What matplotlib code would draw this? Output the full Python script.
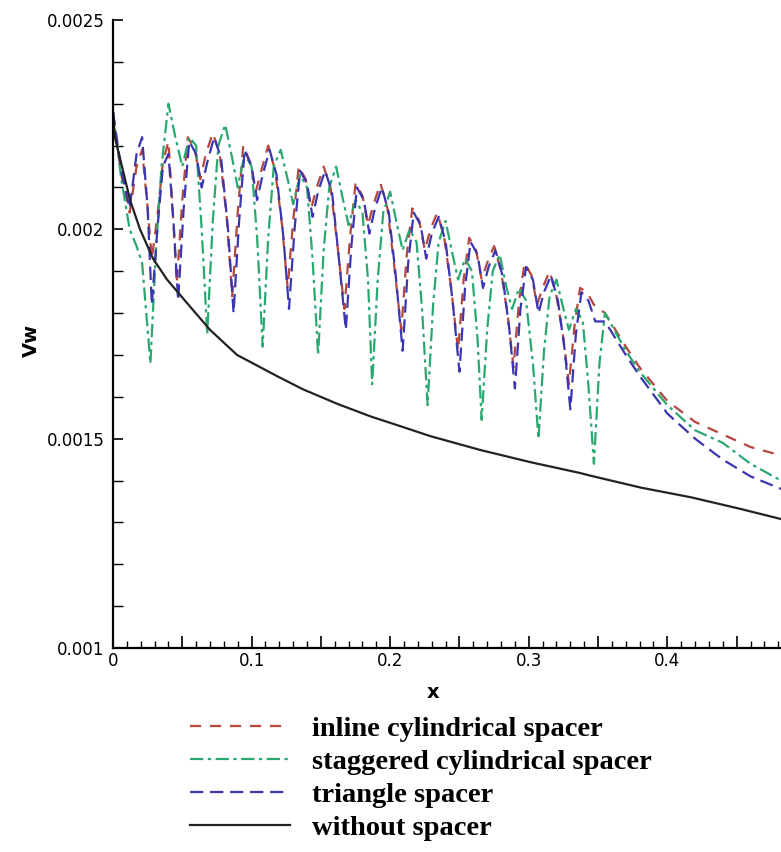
import matplotlib
matplotlib.use("Agg")
import matplotlib.pyplot as plt
from matplotlib.ticker import MultipleLocator, FixedLocator, FixedFormatter

# ---- data ----
x_plain = [0.000, 0.0014, 0.0123, 0.0195, 0.0289, 0.039, 0.0534, 0.070, 0.0895,
           0.118, 0.137, 0.162, 0.186, 0.209, 0.229, 0.265, 0.301, 0.337, 0.344,
           0.381, 0.417, 0.453, 0.482]
vw_plain = [0.00228, 0.00222, 0.00207, 0.00200, 0.00193, 0.00188, 0.001824,
            0.00176, 0.00170, 0.00165, 0.001618, 0.001583, 0.001553, 0.001528,
            0.001506, 0.001473, 0.001444, 0.001418, 0.001412, 0.001383, 0.00136,
            0.001332, 0.001308]

x_inline = [0.000, 0.006, 0.012, 0.017, 0.021, 0.025, 0.028, 0.032, 0.036, 0.040,
            0.043, 0.046, 0.050, 0.054, 0.059, 0.063, 0.067, 0.072, 0.077, 0.082,
            0.086, 0.090, 0.094, 0.099, 0.103, 0.107, 0.112, 0.117, 0.122, 0.126,
            0.130, 0.134, 0.139, 0.143, 0.147, 0.152, 0.157, 0.162, 0.167, 0.171,
            0.175, 0.180, 0.184, 0.188, 0.193, 0.198, 0.203, 0.208, 0.212, 0.216,
            0.221, 0.225, 0.229, 0.234, 0.239, 0.244, 0.249, 0.253, 0.257, 0.262,
            0.266, 0.270, 0.275, 0.280, 0.285, 0.289, 0.293, 0.297, 0.302, 0.306,
            0.310, 0.315, 0.320, 0.325, 0.329, 0.333, 0.337, 0.342, 0.347, 0.355,
            0.370, 0.380, 0.400, 0.420, 0.440, 0.460, 0.482]
vw_inline = [0.00228, 0.00213, 0.00204, 0.00215, 0.00219, 0.00205, 0.00193, 0.00203,
             0.00216, 0.00221, 0.00205, 0.00187, 0.00207, 0.00222, 0.00219, 0.00212,
             0.00218, 0.00223, 0.00218, 0.00203, 0.00184, 0.00204, 0.00220, 0.00216,
             0.00209, 0.00214, 0.00220, 0.00214, 0.00201, 0.00186, 0.00202, 0.00215,
             0.00212, 0.00205, 0.00210, 0.00215, 0.00210, 0.00196, 0.00181, 0.00198,
             0.00211, 0.00208, 0.00201, 0.00206, 0.00211, 0.00205, 0.00191, 0.00176,
             0.00194, 0.00205, 0.00202, 0.00195, 0.00200, 0.00204, 0.00198, 0.00186,
             0.00171, 0.00188, 0.00198, 0.00195, 0.00188, 0.00192, 0.00196, 0.00190,
             0.00179, 0.00167, 0.00183, 0.00192, 0.00189, 0.00182, 0.00186, 0.00190,
             0.00184, 0.00174, 0.00163, 0.00177, 0.00186, 0.00185, 0.00182, 0.00180,
             0.00172, 0.00167, 0.00159, 0.00154, 0.00151, 0.00148, 0.00146]

x_stag = [0.000, 0.006, 0.012, 0.017, 0.021, 0.024, 0.027, 0.031, 0.035, 0.040,
          0.045, 0.050, 0.055, 0.060, 0.064, 0.068, 0.072, 0.076, 0.081, 0.086,
          0.090, 0.095, 0.100, 0.104, 0.108, 0.112, 0.116, 0.121, 0.126, 0.130,
          0.135, 0.140, 0.144, 0.148, 0.152, 0.156, 0.161, 0.166, 0.170, 0.175,
          0.180, 0.184, 0.187, 0.191, 0.195, 0.200, 0.205, 0.209, 0.214, 0.219,
          0.223, 0.227, 0.231, 0.235, 0.240, 0.245, 0.249, 0.254, 0.259, 0.263,
          0.266, 0.270, 0.274, 0.279, 0.284, 0.288, 0.293, 0.298, 0.303, 0.307,
          0.311, 0.315, 0.320, 0.325, 0.329, 0.334, 0.339, 0.343, 0.347, 0.351,
          0.355, 0.370, 0.380, 0.400, 0.420, 0.440, 0.460, 0.482]
vw_stag = [0.00228, 0.00212, 0.00200, 0.00196, 0.00192, 0.00180, 0.00168, 0.00195,
           0.00215, 0.00230, 0.00222, 0.00215, 0.00222, 0.00220, 0.00200, 0.00175,
           0.00202, 0.00220, 0.00225, 0.00217, 0.00210, 0.00218, 0.00215, 0.00198,
           0.00172, 0.00198, 0.00215, 0.00219, 0.00212, 0.00206, 0.00213, 0.00210,
           0.00193, 0.00170, 0.00195, 0.00210, 0.00215, 0.00207, 0.00201, 0.00207,
           0.00204, 0.00188, 0.00163, 0.00188, 0.00204, 0.00209, 0.00201, 0.00195,
           0.00200, 0.00197, 0.00181, 0.00158, 0.00182, 0.00197, 0.00202, 0.00194,
           0.00188, 0.00193, 0.00190, 0.00174, 0.001545, 0.00176, 0.00190, 0.00194,
           0.00186, 0.00181, 0.00186, 0.00183, 0.00168, 0.00150, 0.00171, 0.00184,
           0.00188, 0.00181, 0.00176, 0.00181, 0.00178, 0.00163, 0.00144, 0.00168,
           0.00180, 0.00171, 0.00166, 0.00158, 0.00152, 0.00149, 0.00144, 0.00140]

x_tri = [0.000, 0.006, 0.012, 0.017, 0.021, 0.025, 0.028, 0.032, 0.036, 0.040,
         0.044, 0.047, 0.051, 0.055, 0.060, 0.064, 0.068, 0.073, 0.078, 0.083,
         0.087, 0.091, 0.095, 0.100, 0.104, 0.108, 0.113, 0.118, 0.123, 0.127,
         0.131, 0.135, 0.140, 0.144, 0.148, 0.153, 0.158, 0.163, 0.168, 0.172,
         0.176, 0.181, 0.185, 0.189, 0.194, 0.199, 0.204, 0.209, 0.213, 0.217,
         0.222, 0.226, 0.230, 0.235, 0.240, 0.245, 0.250, 0.254, 0.258, 0.263,
         0.267, 0.271, 0.276, 0.281, 0.286, 0.290, 0.294, 0.298, 0.303, 0.307,
         0.311, 0.316, 0.321, 0.326, 0.330, 0.334, 0.338, 0.343, 0.348, 0.355,
         0.370, 0.380, 0.400, 0.420, 0.440, 0.460, 0.482]
vw_tri = [0.00228, 0.00214, 0.00205, 0.00218, 0.00222, 0.00205, 0.00182, 0.00200,
          0.00215, 0.00218, 0.00200, 0.00183, 0.00205, 0.00221, 0.00218, 0.00210,
          0.00216, 0.00222, 0.00217, 0.00200, 0.00180, 0.00202, 0.00219, 0.00215,
          0.00207, 0.00213, 0.00219, 0.00213, 0.00198, 0.00181, 0.00200, 0.00214,
          0.00211, 0.00203, 0.00209, 0.00214, 0.00209, 0.00193, 0.00176, 0.00196,
          0.00210, 0.00207, 0.00199, 0.00205, 0.00210, 0.00204, 0.00189, 0.00171,
          0.00192, 0.00204, 0.00201, 0.00193, 0.00199, 0.00203, 0.00197, 0.00183,
          0.00166, 0.00186, 0.00197, 0.00194, 0.00186, 0.00191, 0.00195, 0.00189,
          0.00176, 0.00162, 0.00181, 0.00191, 0.00188, 0.00180, 0.00185, 0.00189,
          0.00183, 0.00171, 0.00157, 0.00175, 0.00185, 0.00183, 0.00178, 0.00178,
          0.00170, 0.00165, 0.00156, 0.00150, 0.00145, 0.00141, 0.00138]

labels = ["inline cylindrical spacer", "staggered cylindrical spacer",
          "triangle spacer", "without spacer"]
x_ticks = [0.0, 0.05, 0.1, 0.15, 0.2, 0.25, 0.3, 0.35, 0.4, 0.45]
x_ticklabels = ["0", "", "0.1", "", "0.2", "", "0.3", "", "0.4", ""]
y_ticks = [0.001, 0.0015, 0.002, 0.0025]
y_ticklabels = ["0.001", "0.0015", "0.002", "0.0025"]

fig = plt.figure(figsize=(7.81, 8.52), dpi=100)
ax = fig.add_axes([113 / 781, 1 - 648 / 852, 1 - 113 / 781, (648 - 20) / 852])

l1, = ax.plot(x_inline, vw_inline, color="#b5473f", lw=1.6, ls=(0, (5, 4)))
l2, = ax.plot(x_stag, vw_stag, color="#2aa870", lw=1.6, ls=(0, (6, 2, 1.5, 2)))
l3, = ax.plot(x_tri, vw_tri, color="#3b35b0", lw=1.6, ls=(0, (6, 3)))
l4, = ax.plot(x_plain, vw_plain, color="#222222", lw=1.6, ls="-")

ax.set_xlim(0, 0.482)
ax.set_ylim(0.001, 0.0025)

for side in ["top", "right"]:
    ax.spines[side].set_visible(False)
for side in ["left", "bottom"]:
    ax.spines[side].set_linewidth(1.6)

ax.xaxis.set_major_locator(FixedLocator(x_ticks))
ax.xaxis.set_major_formatter(FixedFormatter(x_ticklabels))
ax.xaxis.set_minor_locator(MultipleLocator(0.01))
ax.yaxis.set_major_locator(FixedLocator(y_ticks))
ax.yaxis.set_major_formatter(FixedFormatter(y_ticklabels))
ax.yaxis.set_minor_locator(MultipleLocator(0.0001))

ax.tick_params(axis="x", which="major", direction="in", length=9, width=1.2,
               labelsize=12, pad=3)
ax.tick_params(axis="x", which="minor", direction="in", length=5, width=1.0)
ax.tick_params(axis="y", which="major", direction="in", length=7, width=1.2,
               labelsize=12, pad=6)
ax.tick_params(axis="y", which="minor", direction="in", length=7, width=1.0)

ax.set_xlabel("x", fontsize=14, fontweight="bold")
ax.set_ylabel("Vw", fontsize=14, fontweight="bold")
ax.xaxis.set_label_coords(0.479, -0.056)
ax.yaxis.set_label_coords(-0.108, 0.49)

fig.legend([l1, l2, l3, l4], labels, loc="upper left",
           bbox_to_anchor=(190 / 781, 1 - 716 / 852), frameon=False,
           prop={"family": "Liberation Serif", "weight": "bold", "size": 20.5},
           handlelength=3.5, handletextpad=0.8, labelspacing=0.25,
           borderpad=0, borderaxespad=0)

fig.savefig("out.png", dpi=100)
